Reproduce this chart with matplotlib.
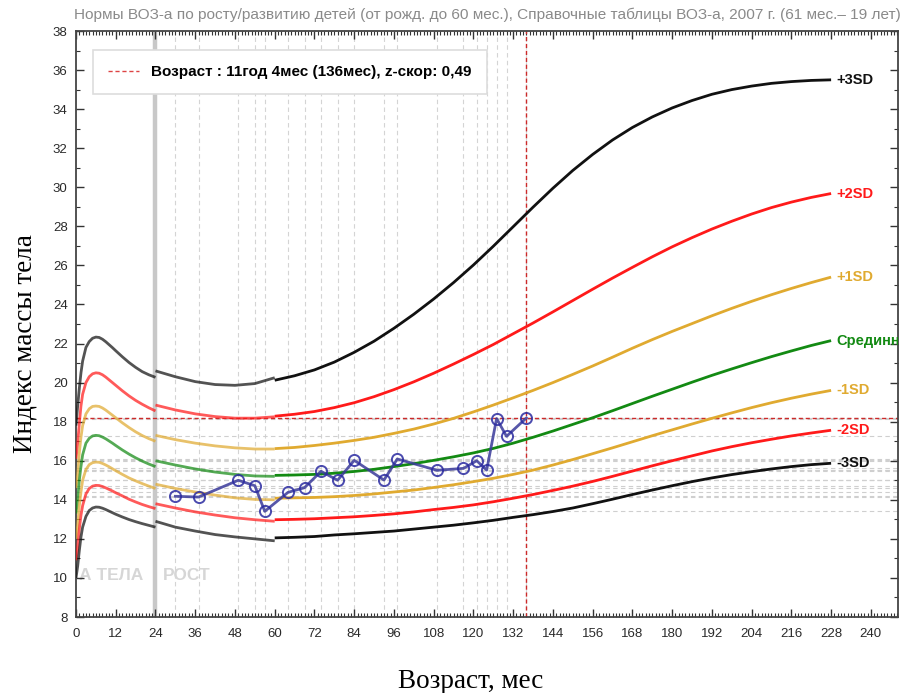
import numpy as np
import matplotlib
matplotlib.use("Agg")
import matplotlib.pyplot as plt
from matplotlib.lines import Line2D
from matplotlib.ticker import MultipleLocator

# WHO BMI-for-age, boys: 0-24 mo (lying), 24-60 mo (standing), 61-228 mo (2007 reference)
age_a = [0, 0.5, 1, 1.5, 2, 3, 4, 5, 6, 7, 8, 9, 10, 11, 12, 14, 16, 18, 20, 22, 24]
sd_a = {
    "-3": [10.0, 10.6, 11.4, 12.1, 12.6, 13.15, 13.45, 13.58, 13.63, 13.62, 13.57, 13.5, 13.42, 13.34, 13.26,
           13.12, 12.99, 12.88, 12.78, 12.69, 12.6],
    "-2": [10.9, 11.6, 12.5, 13.2, 13.7, 14.3, 14.58, 14.7, 14.74, 14.73, 14.68, 14.61, 14.53, 14.45, 14.36,
           14.2, 14.03, 13.89, 13.76, 13.65, 13.55],
    "-1": [12.0, 12.7, 13.7, 14.4, 15.0, 15.55, 15.8, 15.9, 15.93, 15.92, 15.86, 15.78, 15.69, 15.59, 15.49,
           15.3, 15.12, 14.97, 14.83, 14.7, 14.58],
    "0":  [13.3, 14.0, 15.0, 15.7, 16.3, 16.9, 17.15, 17.27, 17.3, 17.28, 17.21, 17.12, 17.01, 16.9, 16.78,
           16.55, 16.34, 16.15, 15.98, 15.83, 15.7],
    "+1": [14.6, 15.3, 16.4, 17.2, 17.8, 18.4, 18.66, 18.78, 18.8, 18.78, 18.7, 18.59, 18.46, 18.33, 18.2,
           17.94, 17.7, 17.48, 17.29, 17.13, 17.0],
    "+2": [16.1, 16.9, 17.9, 18.8, 19.4, 20.0, 20.3, 20.45, 20.5, 20.48, 20.4, 20.28, 20.14, 20.0, 19.86,
           19.58, 19.32, 19.09, 18.89, 18.71, 18.55],
    "+3": [17.8, 18.8, 19.7, 20.5, 21.1, 21.8, 22.1, 22.27, 22.33, 22.31, 22.22, 22.09, 21.94, 21.79, 21.63,
           21.32, 21.03, 20.78, 20.56, 20.4, 20.27],
}

age_b = [24, 30, 36, 42, 48, 54, 60]
sd_b = {
    "-3": [12.9, 12.6, 12.4, 12.22, 12.1, 12.0, 11.9],
    "-2": [13.8, 13.58, 13.38, 13.22, 13.08, 12.98, 12.9],
    "-1": [14.8, 14.58, 14.4, 14.24, 14.1, 14.02, 14.0],
    "0":  [16.0, 15.78, 15.58, 15.42, 15.3, 15.22, 15.2],
    "+1": [17.3, 17.08, 16.9, 16.76, 16.66, 16.6, 16.6],
    "+2": [18.85, 18.6, 18.4, 18.26, 18.18, 18.18, 18.25],
    "+3": [20.6, 20.3, 20.05, 19.9, 19.86, 19.95, 20.25],
}

age_c = [60, 66, 72, 78, 84, 90, 96, 102, 108, 114, 120, 126, 132, 138, 144,
         150, 156, 162, 168, 174, 180, 186, 192, 198, 204, 210, 216, 222, 228]
sd_c = {
    "-3": [12.05, 12.08, 12.12, 12.2, 12.26, 12.33, 12.4, 12.5, 12.6, 12.7, 12.82, 12.95, 13.1, 13.24, 13.4,
           13.58, 13.8, 14.03, 14.27, 14.5, 14.72, 14.93, 15.12, 15.29, 15.44, 15.58, 15.7, 15.8, 15.87],
    "-2": [12.98, 13.0, 13.03, 13.08, 13.13, 13.2, 13.28, 13.38, 13.5, 13.61, 13.74, 13.9, 14.08, 14.27, 14.48,
           14.7, 14.94, 15.2, 15.47, 15.74, 16.0, 16.25, 16.5, 16.72, 16.92, 17.1, 17.27, 17.42, 17.56],
    "-1": [14.08, 14.1, 14.12, 14.16, 14.22, 14.3, 14.4, 14.5, 14.63, 14.77, 14.93, 15.1, 15.3, 15.52, 15.78,
           16.06, 16.36, 16.66, 16.97, 17.28, 17.58, 17.88, 18.17, 18.45, 18.72, 18.97, 19.2, 19.41, 19.6],
    "0":  [15.25, 15.27, 15.3, 15.36, 15.45, 15.56, 15.7, 15.85, 16.02, 16.2, 16.4, 16.63, 16.9, 17.2, 17.52,
           17.86, 18.2, 18.56, 18.93, 19.3, 19.66, 20.02, 20.37, 20.7, 21.02, 21.33, 21.62, 21.9, 22.15],
    "+1": [16.62, 16.68, 16.78, 16.9, 17.04, 17.2, 17.4, 17.62, 17.88, 18.17, 18.5, 18.85, 19.22, 19.6, 20.0,
           20.42, 20.85, 21.3, 21.76, 22.2, 22.62, 23.02, 23.42, 23.8, 24.16, 24.5, 24.82, 25.12, 25.4],
    "+2": [18.28, 18.38, 18.52, 18.72, 18.97, 19.28, 19.64, 20.04, 20.48, 20.95, 21.44, 21.95, 22.5, 23.05, 23.62,
           24.2, 24.78, 25.35, 25.9, 26.44, 26.95, 27.42, 27.86, 28.26, 28.63, 28.96, 29.24, 29.48, 29.68],
    "+3": [20.12, 20.35, 20.65, 21.05, 21.55, 22.12, 22.78, 23.5, 24.28, 25.12, 26.02, 26.98, 27.98, 28.98, 29.95,
           30.86, 31.68, 32.42, 33.06, 33.6, 34.06, 34.44, 34.76, 35.0, 35.18, 35.32, 35.41, 35.47, 35.5],
}

sd_keys = ["+3", "+2", "+1", "0", "-1", "-2", "-3"]
sd_labels = ["+3SD", "+2SD", "+1SD", "Срединная", "-1SD", "-2SD", "-3SD"]
sd_colors = ["#111111", "#ff1a1a", "#e0aa30", "#138a13", "#e0aa30", "#ff1a1a", "#111111"]

# child's measurements
child_age = [30, 37, 49, 54, 57, 64, 69, 74, 79, 84, 93, 97, 109, 117, 121, 124, 127, 130, 136]
child_bmi = [14.18, 14.14, 15.0, 14.72, 13.41, 14.38, 14.62, 15.46, 15.0, 16.02,
             15.01, 16.09, 15.51, 15.61, 16.0, 15.52, 18.16, 17.25, 18.19]

cur_age = 136
cur_bmi = 18.19
legend_text = "Возраст : 11год 4мес (136мес), z-скор: 0,49"
title = ("Нормы ВОЗ-а по росту/развитию детей (от рожд. до 60 мес.), "
         "Справочные таблицы ВОЗ-а, 2007 г. (61 мес.– 19 лет)")

plt.rcParams["font.family"] = ["Liberation Sans", "DejaVu Sans"]

fig = plt.figure(figsize=(9.06, 6.93), dpi=100)
ax = fig.add_axes([76 / 906, 76 / 693, 822 / 906, 586 / 693])
ax.set_xlim(0, 248.2)
ax.set_ylim(8, 38)

# measurement grid
for a in child_age:
    ax.axvline(a, color="#d4d4d4", lw=0.8, ls=(0, (4, 3)), zorder=1)
for b in child_bmi:
    ax.axhline(b, color="#cfcfcf", lw=0.8, ls=(0, (4, 3)), zorder=1)

ax.axvline(24, color="#c8c8c8", lw=3.2, zorder=1.5)

ax.text(1, 10.15, "А ТЕЛА", color="#d6d6d6", fontsize=12.5, fontweight="bold", va="center", zorder=1)
ax.text(26.3, 10.15, "РОСТ", color="#d6d6d6", fontsize=12.5, fontweight="bold", va="center", zorder=1)

for key, lab, col in zip(sd_keys, sd_labels, sd_colors):
    ax.plot(age_a, sd_a[key], color=col, lw=2.0, alpha=0.72, solid_capstyle="butt", zorder=3)
    ax.plot(age_b, sd_b[key], color=col, lw=2.0, alpha=0.72, solid_capstyle="butt", zorder=3)
    ax.plot(age_c, sd_c[key], color=col, lw=2.0, solid_capstyle="butt", zorder=3)
    # labels are clipped at the plot edge, like "Срединн" in the original
    ax.text(229.5, sd_c[key][-1], lab, color=col, fontsize=10.5, fontweight="bold",
            va="center", ha="left", clip_on=True, zorder=4)

ax.axvline(cur_age, color="#cc2a2a", lw=1.0, ls=(0, (3, 2)), zorder=2)
ax.axhline(cur_bmi, color="#cc2a2a", lw=1.0, ls=(0, (3, 2)), zorder=2)

ax.plot(child_age, child_bmi, color="#3a3a9a", lw=2.0, alpha=0.85, marker="o", ms=8,
        mfc="none", mec="#2a2aa0", mew=1.4, zorder=5)

handle = Line2D([], [], color="#dd4444", lw=1.0, ls=(0, (3, 2)))
leg = ax.legend([handle], [legend_text], loc="upper left", bbox_to_anchor=(0.0207, 0.968),
                frameon=True, fancybox=False, edgecolor="#dddddd", framealpha=1,
                prop={"size": 11, "weight": "bold"}, handlelength=2.0, borderpad=1.0,
                handletextpad=0.8, borderaxespad=0)
leg.get_frame().set_linewidth(1.2)
leg.set_zorder(6)

ax.xaxis.set_major_locator(MultipleLocator(12))
ax.xaxis.set_minor_locator(MultipleLocator(1))
ax.yaxis.set_major_locator(MultipleLocator(2))
ax.yaxis.set_minor_locator(MultipleLocator(1))
ax.tick_params(which="both", direction="in", top=True, right=True, colors="#333333",
               labelsize=9.5, labelcolor="#2a2a2a")
ax.tick_params(which="major", length=6, width=1.0)
ax.tick_params(axis="x", which="major", pad=8)
ax.tick_params(axis="y", which="major", pad=6)
ax.tick_params(which="minor", length=3, width=0.8)
for s in ax.spines.values():
    s.set_color("#444444")
    s.set_linewidth(1.3)

ax.set_title(title, color="#8a8a8a", fontsize=11.1, pad=9)
ax.set_xlabel("Возраст, мес", family="Liberation Serif", fontsize=19.5)
ax.set_ylabel("Индекс массы тела", family="Liberation Serif", fontsize=19.5)
ax.xaxis.set_label_coords(0.4805, -0.088)
ax.yaxis.set_label_coords(-0.047, 0.466)

fig.savefig("out.png", dpi=100)
